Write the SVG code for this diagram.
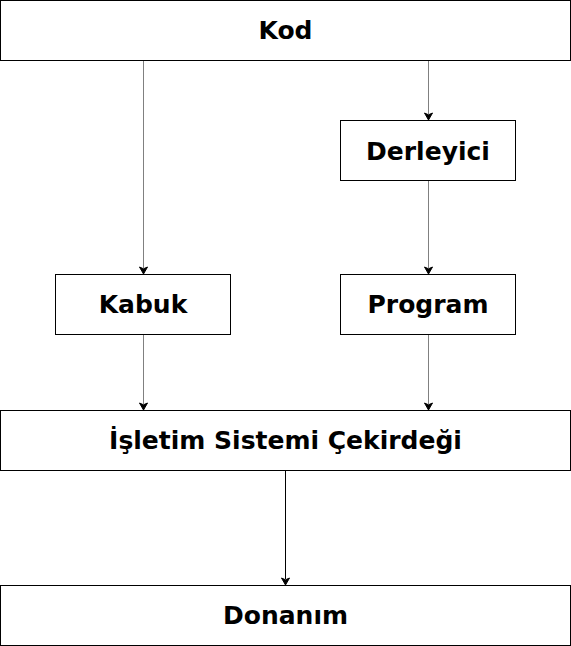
<svg xmlns="http://www.w3.org/2000/svg" width="571" height="646" viewBox="0 0 571 646">
<style>
.box{fill:#fff;stroke:#000;stroke-width:1}
.lbl{font-family:"DejaVu Sans",sans-serif;font-weight:bold;font-size:25px;text-anchor:middle;fill:#000}
.edge{fill:none;stroke:#808080;stroke-width:1}
.edge.dark{stroke:#000}
.head{fill:#000;stroke:#000;stroke-width:1}
</style>
<rect width="571" height="646" fill="#fff"/>
<g id="connectors">
<path class="edge" d="M143.5 60.5 V268"/>
<path class="head" d="M143.5 274 L139.5 267 L143.5 268.8 L147.5 267 Z"/>
<path class="edge" d="M428.5 60.5 V114"/>
<path class="head" d="M428.5 120 L424.5 113 L428.5 114.8 L432.5 113 Z"/>
<path class="edge" d="M428.5 180.5 V268"/>
<path class="head" d="M428.5 274 L424.5 267 L428.5 268.8 L432.5 267 Z"/>
<path class="edge" d="M143.5 334.5 V404"/>
<path class="head" d="M143.5 410 L139.5 403 L143.5 404.8 L147.5 403 Z"/>
<path class="edge" d="M428.5 334.5 V404"/>
<path class="head" d="M428.5 410 L424.5 403 L428.5 404.8 L432.5 403 Z"/>
<path class="edge dark" d="M285.5 470.5 V579"/>
<path class="head" d="M285.5 585 L281.5 578 L285.5 579.8 L289.5 578 Z"/>
</g>
<g id="kod"><rect class="box" x="0.5" y="0.5" width="570" height="60"/><text class="lbl" x="285.5" y="38.5">Kod</text></g>
<g id="derleyici"><rect class="box" x="340.5" y="120.5" width="175" height="60"/><text class="lbl" x="428" y="159.5">Derleyici</text></g>
<g id="kabuk"><rect class="box" x="55.5" y="274.5" width="175" height="60"/><text class="lbl" x="143" y="313">Kabuk</text></g>
<g id="program"><rect class="box" x="340.5" y="274.5" width="175" height="60"/><text class="lbl" x="428" y="313">Program</text></g>
<g id="kernel"><rect class="box" x="0.5" y="410.5" width="570" height="60"/><text class="lbl" x="285.5" y="448.5">İşletim Sistemi Çekirdeği</text></g>
<g id="donanim"><rect class="box" x="0.5" y="585.5" width="570" height="60"/><text class="lbl" x="285.5" y="624">Donanım</text></g>
</svg>
